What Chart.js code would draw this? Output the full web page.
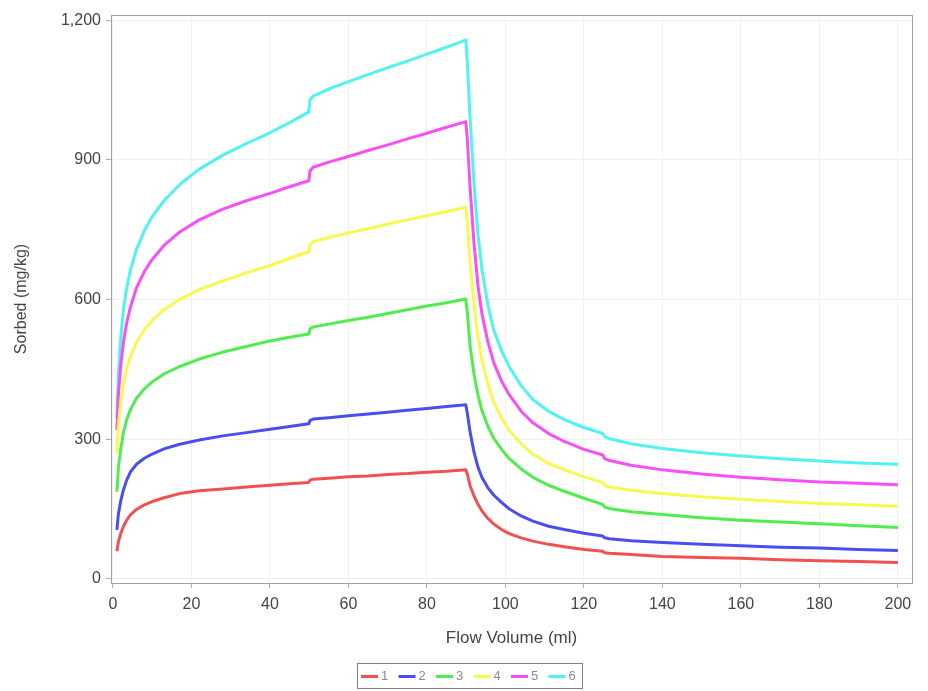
<!DOCTYPE html>
<html>
<head>
<meta charset="utf-8">
<script src="https://cdn.jsdelivr.net/npm/chart.js@4"></script>
<style>
    html, body { margin: 0; padding: 0; background: #ffffff; }
    #wrap { width: 928px; height: 691px; position: relative; }
</style>
</head>
<body>
<div id="wrap"><canvas id="sorbed-chart" width="928" height="691"></canvas></div>
<script>
// ─── Data ────────────────────────────────────────────────────────────
const flowVolume = [1, 1.4, 2, 2.7, 3.5, 4.5, 6, 8, 10, 13, 17, 22, 28, 34, 40, 45, 49.9, 50.2, 51, 55,
    60, 65, 70, 75, 80, 85, 89.9, 90.3, 91, 92, 93, 94, 95.5, 97, 99, 101, 104, 107, 111, 115,
    120, 124.8, 125.3, 126.5, 132, 140, 150, 160, 170, 180, 190, 200];

const series1 = [59, 80, 98, 113, 126, 138, 149, 159, 166, 174, 183, 189, 193, 197, 201, 204, 207, 212, 214, 216,
    219, 221, 224, 226, 229, 231, 234, 225, 200, 178, 160, 146, 130, 118, 106, 97, 88, 81, 74, 69,
    63, 59, 56, 55, 52, 48, 46, 44, 41, 39, 37, 35];
const series2 = [105, 140, 168, 192, 212, 230, 246, 259, 268, 279, 289, 298, 307, 314, 321, 327, 333, 340, 343, 346,
    350, 354, 358, 362, 366, 370, 374, 355, 315, 272, 240, 218, 196, 180, 164, 150, 135, 124, 113, 106,
    98, 92, 88, 86, 82, 78, 74, 71, 68, 66, 63, 61];
const series3 = [187, 240, 280, 315, 342, 364, 388, 408, 423, 440, 456, 472, 487, 499, 511, 519, 526, 537, 541, 547,
    555, 562, 570, 578, 586, 593, 601, 570, 500, 440, 395, 362, 328, 302, 278, 258, 236, 218, 201, 188,
    173, 160, 154, 151, 144, 138, 131, 126, 122, 118, 114, 110];
const series4 = [270, 330, 380, 420, 452, 478, 508, 535, 555, 578, 600, 621, 640, 657, 673, 688, 703, 718, 724, 733,
    743, 752, 762, 771, 780, 789, 798, 765, 680, 590, 520, 470, 420, 380, 345, 318, 290, 268, 248, 234,
    219, 207, 200, 197, 190, 183, 176, 171, 166, 162, 159, 156];
const series5 = [320, 400, 460, 510, 550, 585, 625, 660, 686, 716, 745, 771, 794, 812, 828, 842, 855, 876, 884, 895,
    907, 920, 932, 945, 957, 970, 982, 945, 840, 720, 630, 570, 510, 465, 425, 395, 360, 335, 312, 295,
    278, 266, 258, 254, 244, 234, 225, 218, 213, 208, 205, 202];
const series6 = [345, 440, 520, 580, 625, 665, 708, 748, 778, 812, 847, 880, 910, 935, 958, 980, 1003, 1028, 1037, 1052,
    1068, 1083, 1098, 1112, 1127, 1142, 1157, 1110, 990, 850, 740, 665, 590, 535, 490, 455, 415, 385, 360, 342,
    325, 312, 305, 301, 290, 280, 271, 264, 258, 253, 249, 246];

const seriesLabels = ['1', '2', '3', '4', '5', '6'];
const seriesColors = ['#f25050', '#4a4ef0', '#50ec50', '#f8f850', '#f650f6', '#50f2f2'];

const xTicks = [0, 20, 40, 60, 80, 100, 120, 140, 160, 180, 200];
const yTicks = [0, 300, 600, 900, 1200];

// ─── Helpers ─────────────────────────────────────────────────────────
function toPoints(values) {
    return values.map((v, i) => ({ x: flowVolume[i], y: v }));
}

// frame round the plot + boxed legend under the axis title
const framePlugin = {
    id: 'frame',
    afterDraw(chart) {
        const ctx = chart.ctx;
        const a = chart.chartArea;
        ctx.save();
        ctx.strokeStyle = '#a0a0a0';
        ctx.lineWidth = 1;
        ctx.strokeRect(Math.round(a.left) + 0.5, Math.round(a.top) + 0.5,
            Math.round(a.right - a.left), Math.round(a.bottom - a.top));

        // legend box
        const boxX = 357, boxY = 663, boxW = 225, boxH = 25;
        ctx.strokeStyle = '#808080';
        ctx.strokeRect(boxX + 0.5, boxY + 0.5, boxW, boxH);
        ctx.font = '13px "Liberation Sans", Arial, sans-serif';
        ctx.textBaseline = 'middle';
        let x = boxX + 4;
        const midY = boxY + boxH / 2 + 1;
        chart.data.datasets.forEach(ds => {
            ctx.strokeStyle = ds.borderColor;
            ctx.lineWidth = 3;
            ctx.beginPath();
            ctx.moveTo(x, midY);
            ctx.lineTo(x + 17, midY);
            ctx.stroke();
            ctx.fillStyle = '#8a8a8a';
            ctx.fillText(ds.label, x + 20, midY);
            x += 37.5;
        });
        ctx.restore();
    }
};

// ─── Chart ───────────────────────────────────────────────────────────
function initSorbedChart() {
    const allSeries = [series1, series2, series3, series4, series5, series6];
    const ctx = document.getElementById('sorbed-chart');

    new Chart(ctx, {
        type: 'line',
        data: {
            datasets: allSeries.map((s, i) => ({
                label: seriesLabels[i],
                data: toPoints(s),
                borderColor: seriesColors[i],
                backgroundColor: seriesColors[i],
                borderWidth: 3,
                borderJoinStyle: 'round',
                pointRadius: 0,
                tension: 0,
                fill: false
            }))
        },
        options: {
            responsive: false,
            animation: false,
            layout: { padding: { left: 0, right: 16, top: 15, bottom: 0 } },
            plugins: {
                legend: { display: false },
                tooltip: { enabled: false },
                title: { display: false }
            },
            scales: {
                x: {
                    type: 'linear',
                    min: -0.5,
                    max: 203.6,
                    afterBuildTicks: scale => { scale.ticks = xTicks.map(v => ({ value: v })); },
                    afterFit: scale => { scale.height = 108; },
                    grid: { color: '#f0f0f0', tickColor: '#b0b0b0', tickLength: 5 },
                    border: { color: '#909090' },
                    ticks: {
                        color: '#444',
                        padding: 7,
                        maxRotation: 0,
                        font: { family: '"Liberation Sans", Arial, sans-serif', size: 16 }
                    },
                    title: {
                        display: true,
                        text: 'Flow Volume (ml)',
                        color: '#444',
                        font: { family: '"Liberation Sans", Arial, sans-serif', size: 17 },
                        padding: { top: 0, bottom: 42 }
                    }
                },
                y: {
                    type: 'linear',
                    min: -9,
                    max: 1211,
                    afterBuildTicks: scale => { scale.ticks = yTicks.map(v => ({ value: v })); },
                    afterFit: scale => { scale.width = 111; },
                    grid: { color: '#f0f0f0', tickColor: '#b0b0b0', tickLength: 5 },
                    border: { color: '#909090' },
                    ticks: {
                        color: '#444',
                        padding: 5,
                        font: { family: '"Liberation Sans", Arial, sans-serif', size: 16 },
                        callback: v => v.toLocaleString('en-US')
                    },
                    title: {
                        display: true,
                        text: 'Sorbed (mg/kg)',
                        color: '#444',
                        font: { family: '"Liberation Sans", Arial, sans-serif', size: 16 },
                        padding: { top: 12, bottom: 0 }
                    }
                }
            }
        },
        plugins: [framePlugin]
    });
}

initSorbedChart();
</script>
</body>
</html>
